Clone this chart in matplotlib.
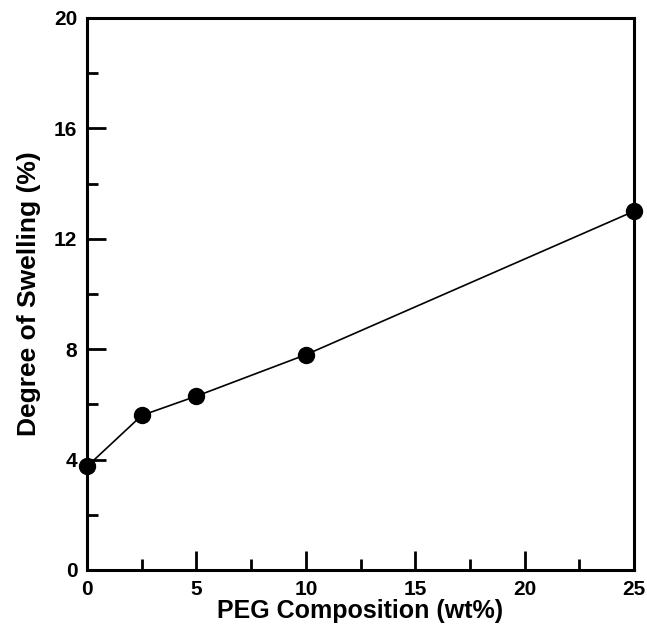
import matplotlib
matplotlib.use("Agg")
import matplotlib.pyplot as plt
from matplotlib.ticker import MultipleLocator

# PEG composition (wt%) vs degree of swelling (%)
peg_wt = [0, 2.5, 5, 10, 25]
swelling = [3.75, 5.6, 6.3, 7.8, 13.0]

plt.rcParams["font.family"] = ["Liberation Sans", "DejaVu Sans"]
plt.rcParams["font.weight"] = "bold"

fig = plt.figure(figsize=(6.47, 6.29), dpi=100)
ax = fig.add_axes([0.1345, 0.0938, 0.8455, 0.8776])

ax.plot(peg_wt, swelling, color="black", lw=1.2, marker="o",
        markersize=11.5, markerfacecolor="black", clip_on=False, zorder=3)

ax.set_xlim(0, 25)
ax.set_ylim(0, 20)
ax.xaxis.set_major_locator(MultipleLocator(5))
ax.xaxis.set_minor_locator(MultipleLocator(2.5))
ax.yaxis.set_major_locator(MultipleLocator(4))
ax.yaxis.set_minor_locator(MultipleLocator(2))

ax.tick_params(which="major", direction="in", length=14, width=2,
               labelsize=15, pad=7)
ax.tick_params(which="minor", direction="in", length=8, width=2)
for s in ax.spines.values():
    s.set_linewidth(2.2)

ax.set_xlabel("PEG Composition (wt%)", fontsize=18, fontweight="bold", labelpad=0)
ax.set_ylabel("Degree of Swelling (%)", fontsize=19, fontweight="bold", labelpad=9)

plt.savefig("out.png", dpi=100)
